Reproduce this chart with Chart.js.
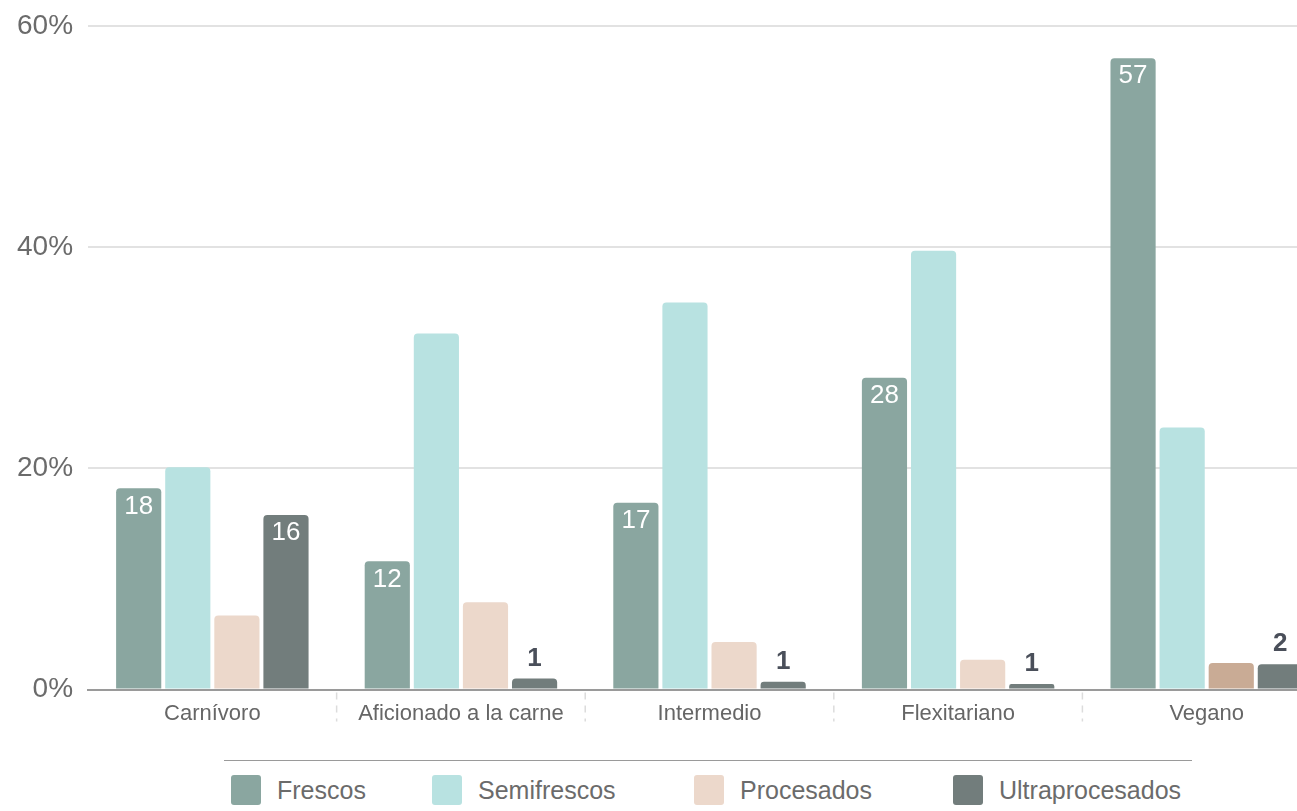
<!DOCTYPE html>
<html>
<head>
<meta charset="utf-8">
<script src="https://cdn.jsdelivr.net/npm/chart.js@4"></script>
<style>
    html, body { margin: 0; padding: 0; background: #fff; overflow: hidden; }
    body { width: 1297px; height: 811px; position: relative; font-family: 'Liberation Sans', Arial, sans-serif; }
    #wrap { position: absolute; left: 0; top: 0; width: 1331px; height: 730px; }
    #legend {
        position: absolute; left: 224px; top: 760px; width: 968px;
        border-top: 1px solid #9a9a9a; box-sizing: border-box;
        padding: 14px 7px 0; display: flex;
    }
    .item { display: flex; align-items: center; }
    .item:nth-child(1) { width: 201px; }
    .item:nth-child(2) { width: 262px; }
    .item:nth-child(3) { width: 259px; }
    .box { width: 30px; height: 30px; border-radius: 3px; margin-right: 16px; flex: none; }
    .txt { font-size: 25px; color: #6b6b6b; line-height: 30px; white-space: nowrap; }
</style>
</head>
<body>
<div id="wrap"><canvas id="chart"></canvas></div>
<div id="legend"></div>
<script>
// categories and series (% of diet)
const categories = ['Carnívoro', 'Aficionado a la carne', 'Intermedio', 'Flexitariano', 'Vegano'];
const seriesNames = ['Frescos', 'Semifrescos', 'Procesados', 'Ultraprocesados'];
const frescos = [18.2, 11.6, 16.9, 28.2, 57.1];
const semifrescos = [20.1, 32.2, 35.0, 39.7, 23.7];
const procesados = [6.7, 7.9, 4.3, 2.7, 2.4];
const ultraprocesados = [15.8, 1.0, 0.7, 0.5, 2.3];
const yTicks = [0, 20, 40, 60];

const colors = ['#8aa6a0', '#b8e2e1', '#ecd8cb', '#727d7c'];
// the Vegano bar of Procesados is shown highlighted
const procColors = ['#ecd8cb', '#ecd8cb', '#ecd8cb', '#ecd8cb', '#c9ab95'];

const FONT = "'Liberation Sans', Arial, sans-serif";

// value labels only for Frescos and Ultraprocesados
const valueLabels = {
    id: 'valueLabels',
    afterDatasetsDraw(chart) {
        const ctx = chart.ctx;
        ctx.save();
        ctx.textAlign = 'center';
        ctx.textBaseline = 'middle';
        [0, 3].forEach(di => {
            const meta = chart.getDatasetMeta(di);
            meta.data.forEach((bar, i) => {
                const v = chart.data.datasets[di].data[i];
                const h = bar.base - bar.y;
                if (h > 40) {
                    ctx.font = '26px ' + FONT;
                    ctx.fillStyle = '#ffffff';
                    ctx.fillText(Math.round(v), bar.x, bar.y + 18);
                } else {
                    ctx.font = 'bold 26px ' + FONT;
                    ctx.fillStyle = '#4a4f5a';
                    ctx.fillText(Math.round(v), bar.x, bar.y - 20);
                }
            });
        });
        ctx.restore();
    }
};

// dashed separators between categories, below the axis
const separators = {
    id: 'separators',
    afterDraw(chart) {
        const x = chart.scales.x;
        const ctx = chart.ctx;
        const bottom = chart.chartArea.bottom;
        ctx.save();
        ctx.strokeStyle = '#dcdcdc';
        ctx.lineWidth = 1.5;
        ctx.setLineDash([7, 6]);
        for (let i = 1; i < categories.length; i++) {
            const px = (x.getPixelForTick(i - 1) + x.getPixelForTick(i)) / 2;
            ctx.beginPath();
            ctx.moveTo(px, bottom + 3);
            ctx.lineTo(px, bottom + 32);
            ctx.stroke();
        }
        ctx.restore();
    }
};

new Chart(document.getElementById('chart'), {
    type: 'bar',
    data: {
        labels: categories,
        datasets: [
            { label: seriesNames[0], data: frescos, backgroundColor: colors[0] },
            { label: seriesNames[1], data: semifrescos, backgroundColor: colors[1] },
            { label: seriesNames[2], data: procesados, backgroundColor: procColors },
            { label: seriesNames[3], data: ultraprocesados, backgroundColor: colors[3] }
        ]
    },
    options: {
        responsive: true,
        maintainAspectRatio: false,
        animation: false,
        categoryPercentage: 0.79,
        barPercentage: 0.92,
        borderRadius: 4,
        layout: { padding: { left: 2, top: 0, right: 0, bottom: 0 } },
        plugins: {
            legend: { display: false },
            tooltip: { enabled: false }
        },
        scales: {
            x: {
                border: { color: '#9a9a9a', width: 2 },
                grid: { display: false },
                ticks: {
                    padding: 3,
                    color: '#666',
                    font: { family: FONT, size: 22 },
                    maxRotation: 0
                }
            },
            y: {
                min: 0,
                max: 60,
                border: { display: false },
                grid: { color: '#e2e2e2', lineWidth: 2, drawTicks: false },
                afterBuildTicks: axis => { axis.ticks = yTicks.map(v => ({ value: v })); },
                ticks: {
                    padding: 15,
                    color: '#6b6b6b',
                    font: { family: FONT, size: 28, lineHeight: 0.8 },
                    callback: v => v + '%'
                }
            }
        }
    },
    plugins: [valueLabels, separators]
});

// legend below, built from the series names and colours
const legend = document.getElementById('legend');
seriesNames.forEach((name, i) => {
    const item = document.createElement('div');
    item.className = 'item';
    const box = document.createElement('span');
    box.className = 'box';
    box.style.background = colors[i];
    const txt = document.createElement('span');
    txt.className = 'txt';
    txt.textContent = name;
    item.appendChild(box);
    item.appendChild(txt);
    legend.appendChild(item);
});
</script>
</body>
</html>
